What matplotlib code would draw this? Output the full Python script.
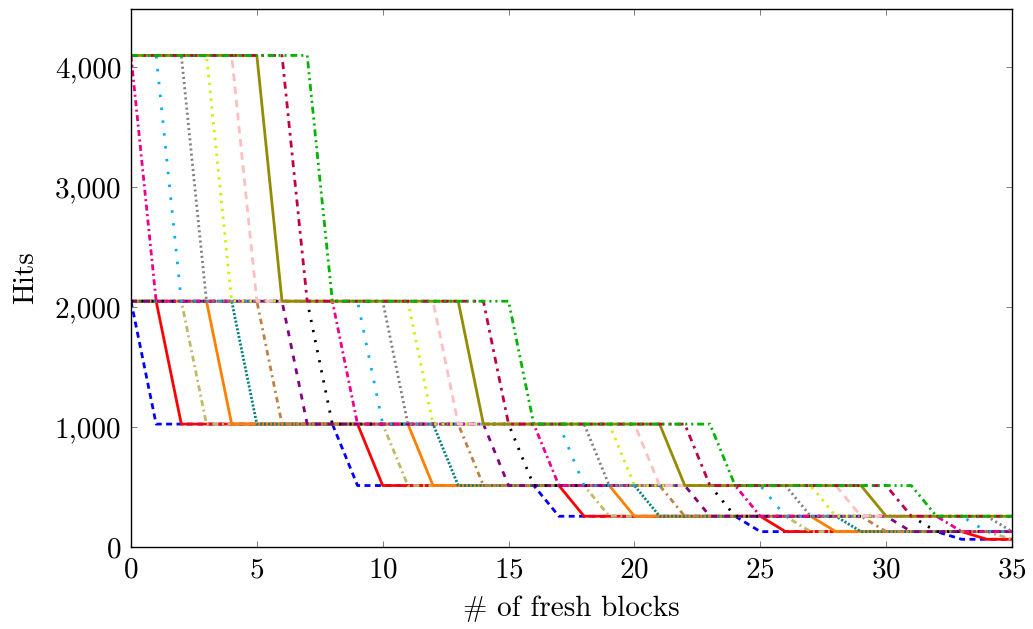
import matplotlib
matplotlib.use("Agg")
import matplotlib.pyplot as plt
from matplotlib.ticker import FuncFormatter

plt.rcParams['font.family'] = ['cmr10', 'DejaVu Serif']
plt.rcParams['axes.formatter.use_mathtext'] = True
plt.rcParams['lines.scale_dashes'] = False

fresh_blocks = [0, 1, 2, 3, 4, 5, 6, 7, 8, 9, 10, 11, 12, 13, 14, 15, 16, 17,
                18, 19, 20, 21, 22, 23, 24, 25, 26, 27, 28, 29, 30, 31, 32, 33, 34, 35]

# series starting at 2048 hits
hits_2048 = [
    [2048, 1024, 1024, 1024, 1024, 1024, 1024, 1024, 1024, 512, 512, 512,
     512, 512, 512, 512, 512, 256, 256, 256, 256, 256, 256, 256,
     256, 128, 128, 128, 128, 128, 128, 128, 128, 64, 64, 64],
    [2048, 2048, 1024, 1024, 1024, 1024, 1024, 1024, 1024, 1024, 512, 512,
     512, 512, 512, 512, 512, 512, 256, 256, 256, 256, 256, 256,
     256, 256, 128, 128, 128, 128, 128, 128, 128, 128, 64, 64],
    [2048, 2048, 2048, 1024, 1024, 1024, 1024, 1024, 1024, 1024, 1024, 512,
     512, 512, 512, 512, 512, 512, 512, 256, 256, 256, 256, 256,
     256, 256, 256, 128, 128, 128, 128, 128, 128, 128, 128, 64],
    [2048, 2048, 2048, 2048, 1024, 1024, 1024, 1024, 1024, 1024, 1024, 1024,
     512, 512, 512, 512, 512, 512, 512, 512, 256, 256, 256, 256,
     256, 256, 256, 256, 128, 128, 128, 128, 128, 128, 128, 128],
    [2048, 2048, 2048, 2048, 2048, 1024, 1024, 1024, 1024, 1024, 1024, 1024,
     1024, 512, 512, 512, 512, 512, 512, 512, 512, 256, 256, 256,
     256, 256, 256, 256, 256, 128, 128, 128, 128, 128, 128, 128],
    [2048, 2048, 2048, 2048, 2048, 2048, 1024, 1024, 1024, 1024, 1024, 1024,
     1024, 1024, 512, 512, 512, 512, 512, 512, 512, 512, 256, 256,
     256, 256, 256, 256, 256, 256, 128, 128, 128, 128, 128, 128],
    [2048, 2048, 2048, 2048, 2048, 2048, 2048, 1024, 1024, 1024, 1024, 1024,
     1024, 1024, 1024, 512, 512, 512, 512, 512, 512, 512, 512, 256,
     256, 256, 256, 256, 256, 256, 256, 128, 128, 128, 128, 128],
    [2048, 2048, 2048, 2048, 2048, 2048, 2048, 2048, 1024, 1024, 1024, 1024,
     1024, 1024, 1024, 1024, 512, 512, 512, 512, 512, 512, 512, 512,
     256, 256, 256, 256, 256, 256, 256, 256, 128, 128, 128, 128],
]

# series starting at 4096 hits
hits_4096 = [
    [4096, 2048, 2048, 2048, 2048, 2048, 2048, 2048, 2048, 1024, 1024, 1024,
     1024, 1024, 1024, 1024, 1024, 512, 512, 512, 512, 512, 512, 512,
     512, 256, 256, 256, 256, 256, 256, 256, 256, 128, 128, 128],
    [4096, 4096, 2048, 2048, 2048, 2048, 2048, 2048, 2048, 2048, 1024, 1024,
     1024, 1024, 1024, 1024, 1024, 1024, 512, 512, 512, 512, 512, 512,
     512, 512, 256, 256, 256, 256, 256, 256, 256, 256, 128, 128],
    [4096, 4096, 4096, 2048, 2048, 2048, 2048, 2048, 2048, 2048, 2048, 1024,
     1024, 1024, 1024, 1024, 1024, 1024, 1024, 512, 512, 512, 512, 512,
     512, 512, 512, 256, 256, 256, 256, 256, 256, 256, 256, 128],
    [4096, 4096, 4096, 4096, 2048, 2048, 2048, 2048, 2048, 2048, 2048, 2048,
     1024, 1024, 1024, 1024, 1024, 1024, 1024, 1024, 512, 512, 512, 512,
     512, 512, 512, 512, 256, 256, 256, 256, 256, 256, 256, 256],
    [4096, 4096, 4096, 4096, 4096, 2048, 2048, 2048, 2048, 2048, 2048, 2048,
     2048, 1024, 1024, 1024, 1024, 1024, 1024, 1024, 1024, 512, 512, 512,
     512, 512, 512, 512, 512, 256, 256, 256, 256, 256, 256, 256],
    [4096, 4096, 4096, 4096, 4096, 4096, 2048, 2048, 2048, 2048, 2048, 2048,
     2048, 2048, 1024, 1024, 1024, 1024, 1024, 1024, 1024, 1024, 512, 512,
     512, 512, 512, 512, 512, 512, 256, 256, 256, 256, 256, 256],
    [4096, 4096, 4096, 4096, 4096, 4096, 4096, 2048, 2048, 2048, 2048, 2048,
     2048, 2048, 2048, 1024, 1024, 1024, 1024, 1024, 1024, 1024, 1024, 512,
     512, 512, 512, 512, 512, 512, 512, 256, 256, 256, 256, 256],
    [4096, 4096, 4096, 4096, 4096, 4096, 4096, 4096, 2048, 2048, 2048, 2048,
     2048, 2048, 2048, 2048, 1024, 1024, 1024, 1024, 1024, 1024, 1024, 1024,
     512, 512, 512, 512, 512, 512, 512, 512, 256, 256, 256, 256],
]

# (color, dash pattern) in the order the series are drawn
styles = [
    ((0, 0, 1), (0, (4.3, 3.2))),                       # blue dashed
    ((1, 0, 0), '-'),                                   # red
    ((0.76, 0.72, 0.40), (0, (4.3, 2.6, 1.4, 2.6))),    # khaki dash dot
    ((1, 0.5, 0), '-'),                                 # orange
    ((0, 0.5, 0.5), (0, (1.5, 1.3))),                   # teal densely dotted
    ((0.75, 0.5, 0.25), (0, (4.0, 3.0, 1.5, 3.0))),     # brown dash dot
    ((0.5, 0, 0.5), (0, (4.3, 5.0))),                   # violet loosely dashed
    ((0, 0, 0), (0, (1.6, 5.8))),                       # black loosely dotted
    ((0.925, 0, 0.55), (0, (4.3, 2.5, 1.5, 2.5))),      # magenta dash dot
    ((0, 0.68, 0.94), (0, (1.8, 7.5))),                 # cyan loosely dotted
    ((0.5, 0.5, 0.5), (0, (1.5, 2.2))),                 # gray dotted
    ((0.78, 0.95, 0), (0, (1.7, 4.0))),                 # lime dotted
    ((1, 0.75, 0.75), (0, (5.5, 4.0))),                 # pink dashed
    ((0.58, 0.55, 0), '-'),                             # olive
    ((0.75, 0, 0.27), (0, (5.0, 3.6, 2.0, 3.6))),       # purple dash dot
    ((0, 0.7, 0), (0, (5.0, 2.8, 1.5, 2.8, 1.5, 2.8))), # green dash dot dot
]

fig = plt.figure(figsize=(10.33, 6.29), dpi=100)
ax = fig.add_axes([0.1268, 0.1304, 0.8529, 0.8553])

for hits, (col, ls) in zip(hits_2048 + hits_4096, styles):
    ax.plot(fresh_blocks, hits, color=col, linestyle=ls, lw=2.0)

ax.set_xlim(0, 35)
ax.set_ylim(0, 4483)
ax.set_xticks([0, 5, 10, 15, 20, 25, 30, 35])
ax.set_yticks([0, 1000, 2000, 3000, 4000])
ax.yaxis.set_major_formatter(FuncFormatter(lambda v, p: f"{int(v):,}"))
ax.tick_params(direction='in', length=4, width=0.6, color='0.4',
               top=True, right=True, labelsize=21, pad=7)
for s in ax.spines.values():
    s.set_linewidth(1.0)

ax.set_xlabel('# of fresh blocks', fontsize=21, labelpad=9)
ax.set_ylabel('Hits', fontsize=21, labelpad=11)

fig.savefig('out.png', dpi=100)
